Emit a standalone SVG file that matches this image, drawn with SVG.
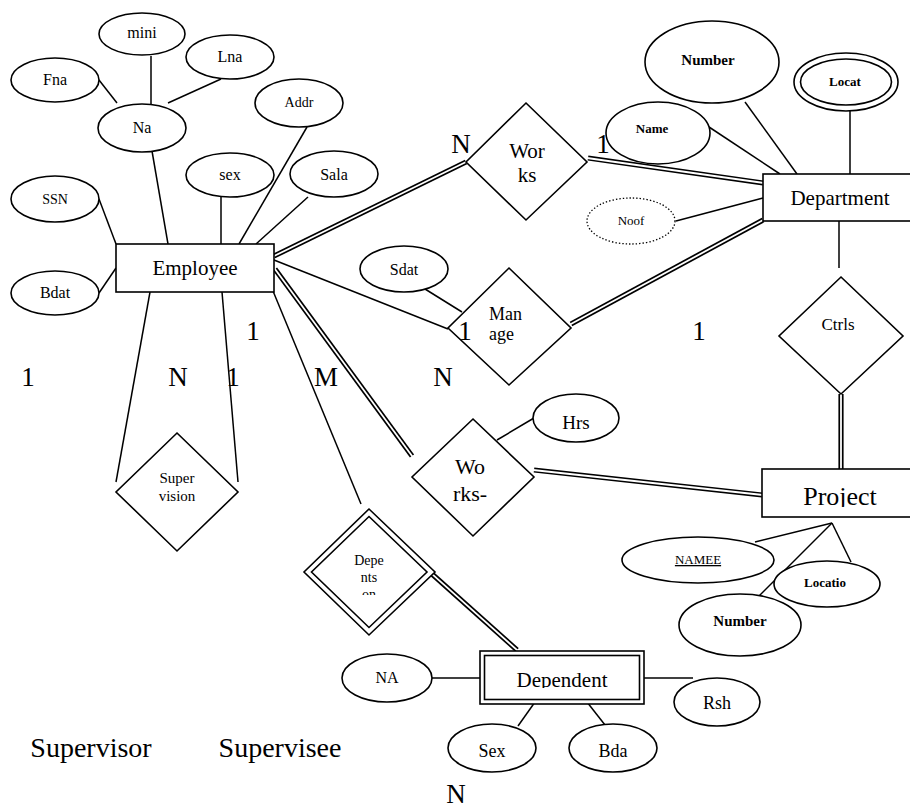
<svg xmlns="http://www.w3.org/2000/svg" width="910" height="810" viewBox="0 0 910 810">
  <style>
    text { font-family: "Liberation Serif", "Tinos", "DejaVu Serif", "Noto Serif", serif; fill: #000; text-anchor: middle; }
    .ln { stroke: #000; stroke-width: 1.5; fill: none; }
    .dbo { stroke: #000; stroke-width: 5.2; fill: none; }
    .dbi { stroke: #fff; stroke-width: 1.8; fill: none; }
    .sh { fill: #fff; stroke: #000; stroke-width: 1.6; }
    .dot { fill: #fff; stroke: #000; stroke-width: 1.3; stroke-dasharray: 1.4 2; }
    .b { font-weight: bold; }
    .card { font-size: 27px; }
  </style>
  <defs>
    <clipPath id="clipOn" clipPathUnits="userSpaceOnUse"><rect x="330" y="540" width="80" height="55"/></clipPath>
    <clipPath id="clipHrs" clipPathUnits="userSpaceOnUse"><rect x="540" y="400" width="80" height="29"/></clipPath>
    <clipPath id="clipSex" clipPathUnits="userSpaceOnUse"><rect x="450" y="730" width="90" height="28"/></clipPath>
    <clipPath id="clipRks" clipPathUnits="userSpaceOnUse"><rect x="430" y="480" width="80" height="22"/></clipPath>
    <clipPath id="clipProj" clipPathUnits="userSpaceOnUse"><rect x="770" y="475" width="140" height="32"/></clipPath>
    <clipPath id="clipDep" clipPathUnits="userSpaceOnUse"><rect x="490" y="660" width="145" height="28"/></clipPath>
  </defs>
  <rect x="0" y="0" width="910" height="810" fill="#fff"/>

  <!-- connectors -->
  <g id="connectors">
    <!-- Employee attributes -->
    <line class="ln" x1="99" y1="80" x2="117" y2="103"/>
    <line class="ln" x1="151" y1="56" x2="151" y2="104"/>
    <line class="ln" x1="221" y1="79" x2="168" y2="103"/>
    <line class="ln" x1="152" y1="151" x2="168" y2="244"/>
    <line class="ln" x1="221" y1="197" x2="221" y2="244"/>
    <line class="ln" x1="307" y1="127" x2="239" y2="244"/>
    <line class="ln" x1="308" y1="197" x2="256" y2="244"/>
    <line class="ln" x1="99" y1="199" x2="116" y2="244"/>
    <line class="ln" x1="99" y1="293" x2="116" y2="268"/>
    <!-- Supervision -->
    <line class="ln" x1="150" y1="292" x2="116" y2="482"/>
    <line class="ln" x1="222" y1="292" x2="238" y2="482"/>
    <!-- Employee to Manage / Depents on -->
    <line class="ln" x1="274" y1="260" x2="448" y2="329"/>
    <line class="ln" x1="273" y1="291" x2="361" y2="504"/>
    <!-- total participation (double lines) -->
    <g>
      <line class="dbo" x1="274" y1="256" x2="466" y2="162"/>
      <line class="dbo" x1="588" y1="158" x2="763" y2="183"/>
      <line class="dbo" x1="571" y1="324" x2="763" y2="220"/>
      <line class="dbo" x1="275" y1="269" x2="412" y2="456"/>
      <line class="dbo" x1="534" y1="470" x2="762" y2="495"/>
      <line class="dbo" x1="841" y1="394" x2="841" y2="469"/>
      <line class="dbo" x1="432" y1="574" x2="517" y2="650"/>
      <line class="dbi" x1="273" y1="256.5" x2="467" y2="161.5"/>
      <line class="dbi" x1="587" y1="158" x2="764" y2="183"/>
      <line class="dbi" x1="570" y1="324.5" x2="764" y2="219.5"/>
      <line class="dbi" x1="274.4" y1="268.2" x2="412.6" y2="456.8"/>
      <line class="dbi" x1="533" y1="470" x2="763" y2="495"/>
      <line class="dbi" x1="841" y1="393" x2="841" y2="470"/>
      <line class="dbi" x1="431.3" y1="573.4" x2="517.7" y2="650.6"/>
    </g>
    <!-- Department -->
    <line class="ln" x1="839" y1="221" x2="839" y2="268"/>
    <line class="ln" x1="676" y1="221" x2="763" y2="198"/>
    <line class="ln" x1="709" y1="127" x2="780" y2="174"/>
    <line class="ln" x1="745" y1="102" x2="797" y2="174"/>
    <line class="ln" x1="850" y1="103" x2="850" y2="174"/>
    <!-- relationship attributes -->
    <line class="ln" x1="425" y1="289" x2="462" y2="312"/>
    <line class="ln" x1="497" y1="440" x2="534" y2="418"/>
    <!-- Project attributes -->
    <line class="ln" x1="832" y1="523" x2="755" y2="542"/>
    <line class="ln" x1="832" y1="523" x2="755" y2="600"/>
    <line class="ln" x1="832" y1="523" x2="851" y2="562"/>
    <!-- Dependent attributes -->
    <line class="ln" x1="432" y1="678" x2="481" y2="678"/>
    <line class="ln" x1="644" y1="678" x2="693" y2="678"/>
    <line class="ln" x1="535" y1="702" x2="518" y2="726"/>
    <line class="ln" x1="587" y1="702" x2="605" y2="725"/>
  </g>

  <!-- entities -->
  <g id="employee">
    <rect class="sh" x="116" y="244" width="158" height="48"/>
    <text x="195" y="275" font-size="21">Employee</text>
  </g>
  <g id="department">
    <rect class="sh" x="763" y="174" width="152" height="47"/>
    <text x="840" y="205" font-size="21">Department</text>
  </g>
  <g id="project">
    <rect class="sh" x="762" y="469" width="153" height="48"/>
    <text x="840" y="505" font-size="26" clip-path="url(#clipProj)">Project</text>
  </g>
  <g id="dependent">
    <rect class="sh" x="480" y="651" width="164" height="53"/>
    <rect class="sh" x="484.5" y="655.5" width="155" height="44"/>
    <text x="562" y="687" font-size="21" clip-path="url(#clipDep)">Dependent</text>
  </g>

  <!-- relationships -->
  <g id="works">
    <polygon class="sh" points="526,103 587,162 526,220 466,162"/>
    <text x="527" y="158" font-size="21">Wor</text>
    <text x="527" y="182" font-size="21">ks</text>
  </g>
  <g id="manage">
    <polygon class="sh" points="509,268 571,328 509,385 448,328"/>
    <text x="489" y="320" font-size="18" style="text-anchor:start">Man</text>
    <text x="489" y="340" font-size="18" style="text-anchor:start">age</text>
  </g>
  <g id="ctrls">
    <polygon class="sh" points="841,277 903,336 841,394 779,336"/>
    <text x="838" y="330" font-size="17">Ctrls</text>
  </g>
  <g id="works-on">
    <polygon class="sh" points="473,419 534,477 473,536 412,477"/>
    <text x="470" y="474" font-size="22">Wo</text>
    <text x="470" y="501" font-size="22" clip-path="url(#clipRks)">rks-</text>
  </g>
  <g id="supervision">
    <polygon class="sh" points="177,433 238,492 177,551 116,492"/>
    <text x="177" y="483" font-size="15">Super</text>
    <text x="177" y="501" font-size="15">vision</text>
  </g>
  <g id="depents-on">
    <polygon class="sh" points="369,509 435,572 369,635 304,572"/>
    <polygon class="sh" points="369,516.5 427,572 369,627.5 311.5,572"/>
    <text x="369" y="565" font-size="14">Depe</text>
    <text x="369" y="582" font-size="14">nts</text>
    <text x="369" y="599" font-size="14" clip-path="url(#clipOn)">on</text>
  </g>

  <!-- attributes -->
  <g id="attr-mini"><ellipse class="sh" cx="142" cy="34" rx="43" ry="21"/><text x="142" y="38" font-size="16">mini</text></g>
  <g id="attr-lna"><ellipse class="sh" cx="230" cy="57" rx="44" ry="22"/><text x="230" y="62" font-size="16">Lna</text></g>
  <g id="attr-fna"><ellipse class="sh" cx="55" cy="80" rx="44" ry="22"/><text x="55" y="85" font-size="16">Fna</text></g>
  <g id="attr-na"><ellipse class="sh" cx="142" cy="128" rx="44" ry="24"/><text x="142" y="133" font-size="16">Na</text></g>
  <g id="attr-addr"><ellipse class="sh" cx="299" cy="103" rx="44" ry="24"/><text x="299" y="107" font-size="14">Addr</text></g>
  <g id="attr-sex"><ellipse class="sh" cx="230" cy="175" rx="44" ry="22"/><text x="230" y="180" font-size="16">sex</text></g>
  <g id="attr-sala"><ellipse class="sh" cx="334" cy="174" rx="44" ry="23"/><text x="334" y="180" font-size="16">Sala</text></g>
  <g id="attr-ssn"><ellipse class="sh" cx="55" cy="199" rx="44" ry="23"/><text x="55" y="204" font-size="14">SSN</text></g>
  <g id="attr-bdat"><ellipse class="sh" cx="55" cy="293" rx="44" ry="22"/><text x="55" y="298" font-size="16">Bdat</text></g>
  <g id="attr-sdat"><ellipse class="sh" cx="404" cy="269" rx="44" ry="23"/><text x="404" y="275" font-size="16">Sdat</text></g>
  <g id="attr-noof"><ellipse class="dot" cx="631" cy="221" rx="44" ry="23"/><text x="631" y="225" font-size="13">Noof</text></g>
  <g id="attr-name"><ellipse class="sh" cx="658" cy="133" rx="52" ry="31"/><text class="b" x="652" y="133" font-size="13">Name</text></g>
  <g id="attr-number-dept"><ellipse class="sh" cx="712" cy="62" rx="67" ry="41"/><text class="b" x="708" y="65" font-size="15">Number</text></g>
  <g id="attr-locat">
    <ellipse class="sh" cx="846" cy="82" rx="52" ry="29"/>
    <ellipse class="sh" cx="846" cy="82" rx="45.5" ry="23"/>
    <text class="b" x="845" y="86" font-size="13">Locat</text>
  </g>
  <g id="attr-hrs"><ellipse class="sh" cx="576" cy="418" rx="43" ry="24"/><text x="576" y="429" font-size="19" clip-path="url(#clipHrs)">Hrs</text></g>
  <g id="attr-namee">
    <ellipse class="sh" cx="698" cy="560" rx="76" ry="23"/>
    <text x="698" y="564" font-size="13" text-decoration="underline">NAMEE</text>
  </g>
  <g id="attr-locatio"><ellipse class="sh" cx="827" cy="584" rx="53" ry="23"/><text class="b" x="825" y="587" font-size="13">Locatio</text></g>
  <g id="attr-number-proj"><ellipse class="sh" cx="740" cy="625" rx="61" ry="31"/><text class="b" x="740" y="626" font-size="15">Number</text></g>
  <g id="attr-na-dep"><ellipse class="sh" cx="387" cy="678" rx="45" ry="24"/><text x="387" y="683" font-size="16">NA</text></g>
  <g id="attr-rsh"><ellipse class="sh" cx="717" cy="702" rx="43" ry="24"/><text x="717" y="709" font-size="18">Rsh</text></g>
  <g id="attr-sex-dep"><ellipse class="sh" cx="492" cy="748" rx="44" ry="24"/><text x="492" y="757" font-size="18" clip-path="url(#clipSex)">Sex</text></g>
  <g id="attr-bda"><ellipse class="sh" cx="613" cy="748" rx="44" ry="24"/><text x="613" y="757" font-size="18">Bda</text></g>

  <!-- cardinalities and role names -->
  <g id="labels">
    <text class="card" x="461" y="153">N</text>
    <text class="card" x="603" y="153">1</text>
    <text class="card" x="465" y="340">1</text>
    <text class="card" x="699" y="340">1</text>
    <text class="card" x="253" y="340">1</text>
    <text class="card" x="28" y="386">1</text>
    <text class="card" x="178" y="386">N</text>
    <text class="card" x="233" y="386">1</text>
    <text class="card" x="326" y="386">M</text>
    <text class="card" x="443" y="386">N</text>
    <text class="card" x="456" y="803">N</text>
    <text x="91" y="757" font-size="28">Supervisor</text>
    <text x="280" y="757" font-size="28">Supervisee</text>
  </g>
</svg>
